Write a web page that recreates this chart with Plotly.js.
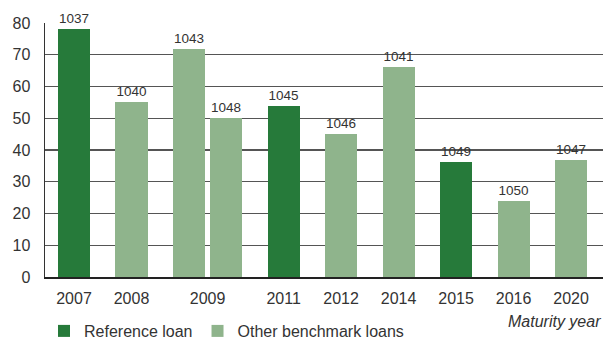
<!DOCTYPE html>
<html>
<head>
<meta charset="utf-8">
<script src="https://cdn.plot.ly/plotly-3.0.1.min.js"></script>
<style>html,body{margin:0;padding:0;background:#fff;}#chart{width:608px;height:340px;}</style>
</head>
<body>
<div id="chart"></div>
<script>
// Data
const loanIds  = ["1037","1040","1043","1048","1045","1046","1041","1049","1050","1047"];
const years    = ["2007","2008","2009","2009","2011","2012","2014","2015","2016","2020"];
const values   = [78, 55, 71.7, 50, 54, 45, 66, 36.3, 24, 36.7];
const isReference = [true,false,false,false,true,false,false,true,false,false];
const seriesNames = ["Reference loan","Other benchmark loans"];
const axisTitle = "Maturity year";

// Layout rule: bars sharing a maturity year sit closer together
const pairStep = 0.645;
const pos = [];
years.forEach((y,i)=>{
  if(i===0) pos.push(0);
  else pos.push(pos[i-1] + (years[i-1]===y ? pairStep : 1));
});
// tick positions: centre of each year's group
const tickYears = [...new Set(years)];
const tickVals = tickYears.map(y=>{
  const p = pos.filter((_,i)=>years[i]===y);
  return p.reduce((a,b)=>a+b,0)/p.length;
});

const FONT = "Liberation Sans, Arial, sans-serif";
function mk(flag, name, color){
  const idx = pos.map((_,i)=>i).filter(i=>isReference[i]===flag);
  return {
    type:'bar', name:name,
    x: idx.map(i=>pos[i]), y: idx.map(i=>values[i]),
    text: idx.map(i=>loanIds[i]),
    textposition:'outside', cliponaxis:false, constraintext:'none',
    textfont:{family:FONT,size:13.5,color:'#333'},
    marker:{color:color, line:{width:0}},
    width:0.557, hoverinfo:'skip'
  };
}
const data = [
  mk(true, seriesNames[0], '#267A3A'),
  mk(false, seriesNames[1], '#8FB48C')
];

const layout = {
  width:608, height:340,
  margin:{l:45, r:5, t:23, b:63, pad:0},
  paper_bgcolor:'#fff', plot_bgcolor:'#fff',
  font:{family:FONT, size:16, color:'#333'},
  showlegend:true,
  legend:{orientation:'h', xref:'container', yref:'container',
          x:44/608, xanchor:'left', y:(340-314)/340, yanchor:'top',
          font:{family:FONT,size:16,color:'#333'}, bgcolor:'rgba(0,0,0,0)'},
  xaxis:{
    range:[-0.504, 9.2], tickmode:'array', tickvals:tickVals, ticktext:tickYears,
    showgrid:false, zeroline:false, showline:true, linecolor:'#222', linewidth:1.5,
    ticks:'outside', ticklen:6, tickcolor:'rgba(0,0,0,0)',
    tickfont:{family:FONT,size:16,color:'#333'}, fixedrange:true
  },
  yaxis:{
    range:[0,80], dtick:10, tick0:0,
    showgrid:true, gridcolor:'#555', gridwidth:1.2,
    zeroline:false, showline:true, linecolor:'#333', linewidth:1.5,
    ticks:'outside', ticklen:10, tickcolor:'rgba(0,0,0,0)',
    tickfont:{family:FONT,size:16,color:'#333'}, fixedrange:true
  },
  annotations:[{
    text:axisTitle, xref:'paper', yref:'paper', x:1, y:-0.175,
    xanchor:'right', yanchor:'middle', showarrow:false,
    font:{family:FONT,size:16,color:'#333',style:'italic'}
  }],
  bargap:0
};
Plotly.newPlot('chart', data, layout, {staticPlot:true, displayModeBar:false});
</script>
</body>
</html>
